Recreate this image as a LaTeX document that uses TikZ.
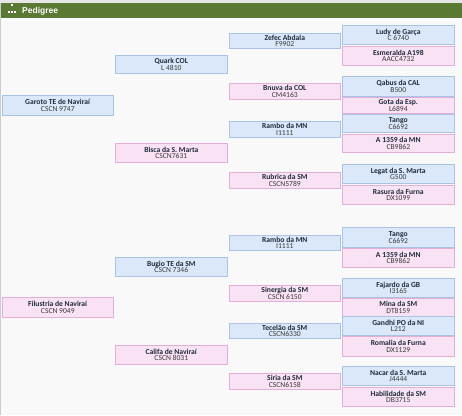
\documentclass[tikz,border=0pt]{standalone}
\usepackage{fontspec}
\setmainfont{Carlito}
\newfontfamily\hdrfont{Liberation Sans}
\definecolor{bgc}{HTML}{F9F9F9}
\definecolor{topc}{HTML}{E6E6E6}
\definecolor{hdrc}{HTML}{5A7A33}
\definecolor{bfill}{HTML}{DAE8F9}
\definecolor{bdraw}{HTML}{A8C3E3}
\definecolor{pfill}{HTML}{F9E2F4}
\definecolor{pdraw}{HTML}{E3AED7}
\definecolor{namec}{HTML}{1E2A3C}
\definecolor{codec}{HTML}{3A3A3A}
\tikzset{
  pedbox/.style={anchor=north west, inner sep=0pt, line width=0.6pt, align=center,
    font=\fontsize{7.6}{6.8}\selectfont},
  bluebox/.style={pedbox, draw=bdraw, fill=bfill},
  pinkbox/.style={pedbox, draw=pdraw, fill=pfill},
}
% \ped{name}{style}{x}{ytop}{ybottom}{width}{Name}{Code}
\newcommand{\ped}[8]{%
  \pgfmathsetmacro{\pedh}{#5-#4}%
  \node[#2, minimum width=#6pt, minimum height=\pedh pt] (#1) at (#3,#4)
    {\textcolor{namec}{\textbf{#7}}\\\textcolor{codec}{#8}};}
\begin{document}
\begin{tikzpicture}[x=1pt,y=-1pt]
\useasboundingbox (0,0) rectangle (462,415);
\fill[bgc] (0,0) rectangle (462,415);
\fill[topc] (0,0) rectangle (462,3);
\fill[hdrc] (0,3) rectangle (462,18);
\fill[white!60!bgc] (0,18) rectangle (462,19.5);
\fill[black!20] (0,3) rectangle (1,415);
% icon
\fill[white] (11.2,4.3) rectangle (12.8,6.1);
\fill[white] (8,10.5) rectangle (10,12.5);
\fill[white] (11,10.5) rectangle (13,12.5);
\fill[white] (14,10.5) rectangle (16,12.5);
\node[anchor=west, inner sep=0pt, text=white, font=\hdrfont\bfseries\fontsize{8.5}{9}\selectfont] (title) at (22,11) {Pedigree};
% column 1
\ped{a1}{bluebox}{2}{95}{115}{111}{Garoto TE de Naviraí}{CSCN 9747}
\ped{a2}{pinkbox}{2}{297}{317}{111}{Filustria de Naviraí}{CSCN 9049}
% column 2
\ped{b1}{bluebox}{115}{55}{73}{112}{Quark COL}{L 4810}
\ped{b2}{pinkbox}{115}{143}{162}{112}{Bisca da S. Marta}{CSCN7631}
\ped{b3}{bluebox}{115}{257}{276}{112}{Bugio TE da SM}{CSCN 7346}
\ped{b4}{pinkbox}{115}{345}{364}{112}{Califa de Naviraí}{CSCN 8031}
% column 3
\ped{c1}{bluebox}{229}{33}{48}{111}{Zefec Abdala}{F9902}
\ped{c2}{pinkbox}{229}{83}{99}{111}{Bnuva da COL}{CM4163}
\ped{c3}{bluebox}{229}{121}{137}{111}{Rambo da MN}{I1111}
\ped{c4}{pinkbox}{229}{172}{188}{111}{Rubrica da SM}{CSCN5789}
\ped{c5}{bluebox}{229}{235}{250}{111}{Rambo da MN}{I1111}
\ped{c6}{pinkbox}{229}{285}{301}{111}{Sinergia da SM}{CSCN 6150}
\ped{c7}{bluebox}{229}{323}{338}{111}{Tecelão da SM}{CSCN6330}
\ped{c8}{pinkbox}{229}{373}{389}{111}{Siria da SM}{CSCN6158}
% column 4
\ped{d1}{bluebox}{342}{25}{44}{112}{Ludy de Garça}{C 6740}
\ped{d2}{pinkbox}{342}{46}{65}{112}{Esmeralda A198}{AACC4732}
\ped{d3}{bluebox}{342}{76}{96}{112}{Qabus da CAL}{B500}
\ped{d4}{pinkbox}{342}{97}{113}{112}{Gota da Esp.}{L6894}
\ped{d5}{bluebox}{342}{114}{132}{112}{Tango}{C6692}
\ped{d6}{pinkbox}{342}{134}{152}{112}{A 1359 da MN}{CB9862}
\ped{d7}{bluebox}{342}{164}{183}{112}{Legat da S. Marta}{G500}
\ped{d8}{pinkbox}{342}{185}{204}{112}{Rasura da Furna}{DX1099}
\ped{d9}{bluebox}{342}{227}{247}{112}{Tango}{C6692}
\ped{d10}{pinkbox}{342}{248}{267}{112}{A 1359 da MN}{CB9862}
\ped{d11}{bluebox}{342}{278}{297}{112}{Fajardo da GB}{I3165}
\ped{d12}{pinkbox}{342}{298}{316}{112}{Mina da SM}{DT8159}
\ped{d13}{bluebox}{342}{316}{335}{112}{Gandhi PO da NI}{L212}
\ped{d14}{pinkbox}{342}{336}{356}{112}{Romalia da Furna}{DX1129}
\ped{d15}{bluebox}{342}{366}{385}{112}{Nacar da S. Marta}{J4444}
\ped{d16}{pinkbox}{342}{387}{406}{112}{Habilidade da SM}{DB3715}
\end{tikzpicture}
\end{document}
